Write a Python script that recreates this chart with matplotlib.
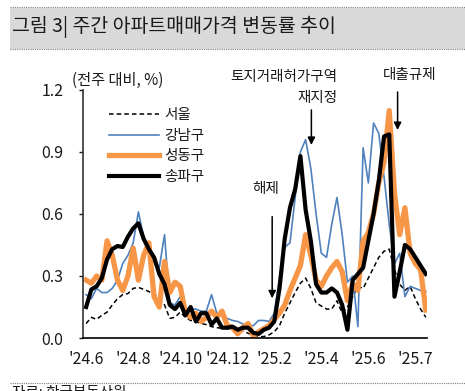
import matplotlib.pyplot as plt
from matplotlib.patches import Rectangle
from matplotlib.lines import Line2D

plt.rcParams['font.family'] = ['Noto Sans CJK KR', 'DejaVu Sans']

# weekly change rate (%)
seoul = [0.07, 0.10, 0.09, 0.11, 0.125, 0.16, 0.19, 0.21, 0.215, 0.24,
         0.245, 0.235, 0.225, 0.21, 0.19, 0.16, 0.095, 0.10, 0.125, 0.10,
         0.085, 0.08, 0.07, 0.065, 0.055, 0.05, 0.047, 0.045, 0.04, 0.045,
         0.035, 0.023, 0.015, 0.007, 0.007, 0.015, 0.03, 0.06, 0.12, 0.17,
         0.22, 0.265, 0.29, 0.24, 0.17, 0.155, 0.14, 0.14, 0.18, 0.12,
         0.15, 0.20, 0.25, 0.24, 0.29, 0.34, 0.39, 0.42, 0.43, 0.33,
         0.26, 0.23, 0.25, 0.19, 0.14, 0.10]
gangnam = [0.21, 0.19, 0.24, 0.22, 0.22, 0.24, 0.28, 0.36, 0.40, 0.46,
           0.61, 0.49, 0.42, 0.37, 0.34, 0.50, 0.17, 0.16, 0.20, 0.14,
           0.14, 0.14, 0.13, 0.13, 0.21, 0.12, 0.11, 0.095, 0.085, 0.08,
           0.068, 0.06, 0.06, 0.085, 0.085, 0.08, 0.12, 0.29, 0.44, 0.46,
           0.68, 0.90, 0.96, 0.82, 0.60, 0.41, 0.39, 0.55, 0.68, 0.50,
           0.27, 0.30, 0.055, 0.92, 0.75, 1.04, 0.99, 0.78, 0.55, 0.36,
           0.41, 0.20, 0.25, 0.24, 0.23, 0.225]
seongdong = [0.28, 0.265, 0.30, 0.28, 0.47, 0.40, 0.28, 0.23, 0.30, 0.435,
             0.28, 0.40, 0.46, 0.20, 0.15, 0.37, 0.22, 0.27, 0.25, 0.12,
             0.10, 0.12, 0.08, 0.10, 0.13, 0.10, 0.13, 0.06, 0.05, 0.02,
             0.05, 0.07, 0.01, 0.03, 0.045, 0.06, 0.09, 0.12, 0.16, 0.23,
             0.29, 0.35, 0.50, 0.40, 0.28, 0.25, 0.30, 0.34, 0.37, 0.32,
             0.18, 0.265, 0.23, 0.47, 0.51, 0.60, 0.75, 0.85, 1.10, 0.70,
             0.50, 0.63, 0.41, 0.36, 0.33, 0.135]
songpa = [0.15, 0.235, 0.25, 0.29, 0.38, 0.43, 0.445, 0.44, 0.49, 0.53,
          0.555, 0.48, 0.43, 0.39, 0.31, 0.26, 0.16, 0.14, 0.17, 0.11,
          0.15, 0.08, 0.12, 0.12, 0.065, 0.095, 0.05, 0.05, 0.055, 0.04,
          0.05, 0.05, 0.025, 0.02, 0.04, 0.05, 0.08, 0.24, 0.48, 0.63,
          0.72, 0.88, 0.62, 0.47, 0.26, 0.22, 0.22, 0.24, 0.22, 0.16,
          0.04, 0.28, 0.31, 0.34, 0.47, 0.60, 0.76, 0.975, 0.985, 0.20,
          0.32, 0.45, 0.43, 0.39, 0.35, 0.31]

tick_pos = [0, 9, 18, 27, 36, 45, 54, 63]
tick_labels = ["'24.6", "'24.8", "'24.10", "'24.12", "'25.2", "'25.4", "'25.6", "'25.7"]

x = list(range(len(seoul)))
txt = '#1a1a1a'

fig = plt.figure(figsize=(4.65, 3.91), dpi=100)

# title band
fig.patches.append(Rectangle((0.0215, 0.8747), 0.98, 0.1048, transform=fig.transFigure,
                             facecolor='#d9d9d9', edgecolor='none', zorder=0))
for yy in (0.982, 0.874):
    fig.add_artist(Line2D([0.0215, 1], [yy, yy], transform=fig.transFigure,
                          color='#7f7f7f', lw=0.8, ls=(0, (1, 1))))
fig.text(0.026, 0.931, '그림 3| 주간 아파트매매가격 변동률 추이', fontsize=14,
         color=txt, ha='left', va='center')

ax = fig.add_axes([0.1785, 0.1355, 0.7395, 0.6345])
ax.plot(x, seoul, color='black', lw=1.1, ls=(0, (3, 2)), label='서울')
ax.plot(x, gangnam, color='#4f81bd', lw=1.2, label='강남구')
ax.plot(x, seongdong, color='#f79646', lw=3.8, label='성동구')
ax.plot(x, songpa, color='black', lw=3.0, label='송파구')

ax.set_xlim(-0.6, 65.2)
ax.set_ylim(0, 1.2)
ax.set_yticks([0.0, 0.3, 0.6, 0.9, 1.2])
ax.set_yticklabels(['0.0', '0.3', '0.6', '0.9', '1.2'])
ax.set_xticks(tick_pos)
ax.set_xticklabels(tick_labels)
ax.tick_params(axis='y', length=3, width=1, pad=11, labelsize=11.5, colors=txt)
ax.tick_params(axis='x', length=0, pad=9, labelsize=11.5, colors=txt)
for s in ('top', 'right'):
    ax.spines[s].set_visible(False)
ax.spines['left'].set_color('#333333')
ax.spines['bottom'].set_color('black')
ax.spines['left'].set_linewidth(1.2)
ax.spines['bottom'].set_linewidth(1.2)

ax.legend(loc='upper left', bbox_to_anchor=(0.2194, 0.742), bbox_transform=fig.transFigure,
          frameon=False, borderpad=0, handlelength=3.4, handletextpad=0.4,
          labelspacing=0.45, fontsize=10.5, labelcolor=txt)

fig.text(0.155, 0.795, '(전주 대비, %)', fontsize=11, color=txt, ha='left', va='center')

# annotations
arrow = dict(arrowstyle='-|>', color='black', lw=1.1, mutation_scale=11, shrinkA=0, shrinkB=0)
ax.annotate('', xy=(35.6, 0.192), xytext=(35.6, 0.587), arrowprops=arrow)
ax.text(34.4, 0.72, '해제', fontsize=10.5, color=txt, ha='center', va='center')
ax.annotate('', xy=(43.1, 0.934), xytext=(43.1, 1.103), arrowprops=arrow)
ax.text(48.1, 1.263, '토지거래허가구역', fontsize=10.5, color=txt, ha='right', va='center', clip_on=False)
ax.text(48.1, 1.159, '재지정', fontsize=10.5, color=txt, ha='right', va='center', clip_on=False)
ax.annotate('', xy=(59.6, 1.006), xytext=(59.6, 1.19), arrowprops=arrow, annotation_clip=False)
ax.text(61.9, 1.272, '대출규제', fontsize=10.5, color=txt, ha='center', va='center', clip_on=False)

# footer
fig.add_artist(Line2D([0.0215, 1], [0.0205, 0.0205], transform=fig.transFigure,
                      color='#7f7f7f', lw=0.8, ls=(0, (1, 1))))
fig.text(0.026, 0.0128, '자료: 한국부동산원', fontsize=10.5, color=txt, ha='left', va='top')

fig.savefig('out.png', dpi=100)
